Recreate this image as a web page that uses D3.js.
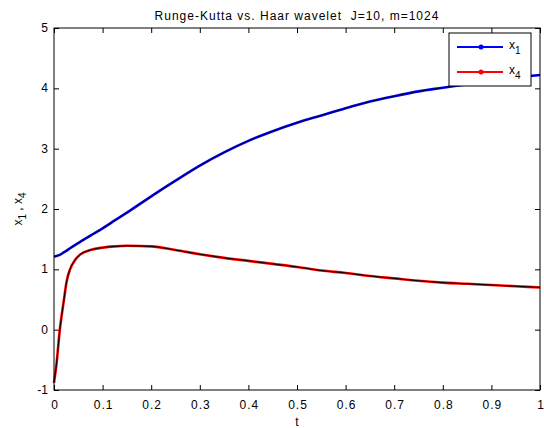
<!DOCTYPE html>
<html>
<head>
<meta charset="utf-8">
<script src="https://cdn.jsdelivr.net/npm/d3@7"></script>
<style>
  body { margin: 0; background: #fff; }
  svg text { font-family: "Liberation Sans", Arial, sans-serif; font-size: 12px; fill: #000; white-space: pre; }
</style>
</head>
<body>
<div id="chart"></div>
<script>
const tVals = [0, 0.005, 0.012, 0.02, 0.026, 0.033, 0.043, 0.053, 0.075, 0.1, 0.125, 0.15, 0.2, 0.25, 0.3, 0.35, 0.4, 0.45, 0.5, 0.55, 0.6, 0.65, 0.7, 0.75, 0.8, 0.85, 0.9, 0.95, 1];
const x1Vals = [1.21, 1.22, 1.24, 1.28, 1.31, 1.35, 1.40, 1.45, 1.56, 1.68, 1.81, 1.94, 2.21, 2.47, 2.72, 2.94, 3.13, 3.29, 3.43, 3.55, 3.67, 3.78, 3.87, 3.95, 4.01, 4.07, 4.13, 4.18, 4.22];
const x4Vals = [-0.88, -0.58, 0.0, 0.47, 0.80, 1.00, 1.15, 1.24, 1.32, 1.36, 1.38, 1.39, 1.38, 1.32, 1.25, 1.19, 1.14, 1.09, 1.04, 0.98, 0.94, 0.89, 0.85, 0.81, 0.78, 0.76, 0.74, 0.72, 0.70];
const xTicks = [0, 0.1, 0.2, 0.3, 0.4, 0.5, 0.6, 0.7, 0.8, 0.9, 1];
const yTicks = [-1, 0, 1, 2, 3, 4, 5];

const width = 544, height = 428;
const m = { left: 54, right: 540, top: 28, bottom: 390 };

const svg = d3.select("#chart").append("svg")
    .attr("width", width)
    .attr("height", height);

const x = d3.scaleLinear().domain([0, 1]).range([m.left, m.right]);
const y = d3.scaleLinear().domain([-1, 5]).range([m.bottom, m.top]);

// ticks pointing inward, on all four sides
const tk = 5;
svg.append("g").attr("transform", `translate(0,${m.bottom})`)
    .call(d3.axisTop(x).tickValues(xTicks).tickSize(tk).tickFormat(""));
svg.append("g").attr("transform", `translate(0,${m.top})`)
    .call(d3.axisBottom(x).tickValues(xTicks).tickSize(tk).tickFormat(""));
svg.append("g").attr("transform", `translate(${m.left},0)`)
    .call(d3.axisRight(y).tickValues(yTicks).tickSize(tk).tickFormat(""));
svg.append("g").attr("transform", `translate(${m.right},0)`)
    .call(d3.axisLeft(y).tickValues(yTicks).tickSize(tk).tickFormat(""));
svg.selectAll(".domain").remove();
svg.selectAll(".tick line").attr("stroke", "#000");

// tick labels
svg.selectAll(".xl").data(xTicks).enter().append("text")
    .attr("x", d => x(d) + 1).attr("y", m.bottom + 19)
    .attr("text-anchor", "middle").style("letter-spacing", "1px").text(d => d);
svg.selectAll(".yl").data(yTicks).enter().append("text")
    .attr("x", m.left - 6).attr("y", d => y(d) + 4)
    .attr("text-anchor", "end").text(d => d);

// curves: Haar wavelet (colored, wide) under Runge-Kutta (black)
const line = d3.line().curve(d3.curveMonotoneX);
const pts1 = tVals.map((t, i) => [x(t), y(x1Vals[i])]);
const pts4 = tVals.map((t, i) => [x(t), y(x4Vals[i])]);

const plot = svg.append("g");
plot.append("path").attr("d", line(pts1)).attr("fill", "none").attr("stroke", "#0000ff").attr("stroke-width", 2.6);
plot.append("path").attr("d", line(pts4)).attr("fill", "none").attr("stroke", "#ff0000").attr("stroke-width", 2.6);
plot.append("path").attr("d", line(pts1)).attr("fill", "none").attr("stroke", "#000").attr("stroke-width", 1).attr("opacity", 0.75);
plot.append("path").attr("d", line(pts4)).attr("fill", "none").attr("stroke", "#000").attr("stroke-width", 1);

// box
svg.append("rect")
    .attr("x", m.left).attr("y", m.top)
    .attr("width", m.right - m.left).attr("height", m.bottom - m.top)
    .attr("fill", "none").attr("stroke", "#000").attr("stroke-width", 1);

// title and axis labels
svg.append("text").attr("x", (m.left + m.right) / 2).attr("y", 20)
    .attr("text-anchor", "middle").style("letter-spacing", "1px")
    .text("Runge-Kutta vs. Haar wavelet  J=10, m=1024");
svg.append("text").attr("x", (m.left + m.right) / 2).attr("y", 426)
    .attr("text-anchor", "middle").text("t");

const yl = svg.append("text")
    .attr("transform", `translate(22,${(m.top + m.bottom) / 2}) rotate(-90)`)
    .attr("text-anchor", "middle");
yl.append("tspan").text("x");
yl.append("tspan").attr("dy", 4).style("font-size", "10px").text("1");
yl.append("tspan").attr("dy", -4).text(" , x");
yl.append("tspan").attr("dy", 4).style("font-size", "10px").text("4");

// legend
const legend = svg.append("g");
legend.append("rect")
    .attr("x", 449).attr("y", 33).attr("width", 82).attr("height", 53)
    .attr("fill", "#fff").attr("stroke", "#000");
const entries = [{ name: "1", color: "#0000ff" }, { name: "4", color: "#ff0000" }];
entries.forEach((e, i) => {
    const ly = 47 + i * 25;
    legend.append("line").attr("x1", 457).attr("x2", 503).attr("y1", ly).attr("y2", ly)
        .attr("stroke", e.color).attr("stroke-width", 2);
    legend.append("circle").attr("cx", 481).attr("cy", ly).attr("r", 2.5).attr("fill", e.color);
    const t = legend.append("text").attr("x", 509).attr("y", ly + 2);
    t.append("tspan").text("x");
    t.append("tspan").attr("dy", 5).style("font-size", "10px").text(e.name);
});
</script>
</body>
</html>
